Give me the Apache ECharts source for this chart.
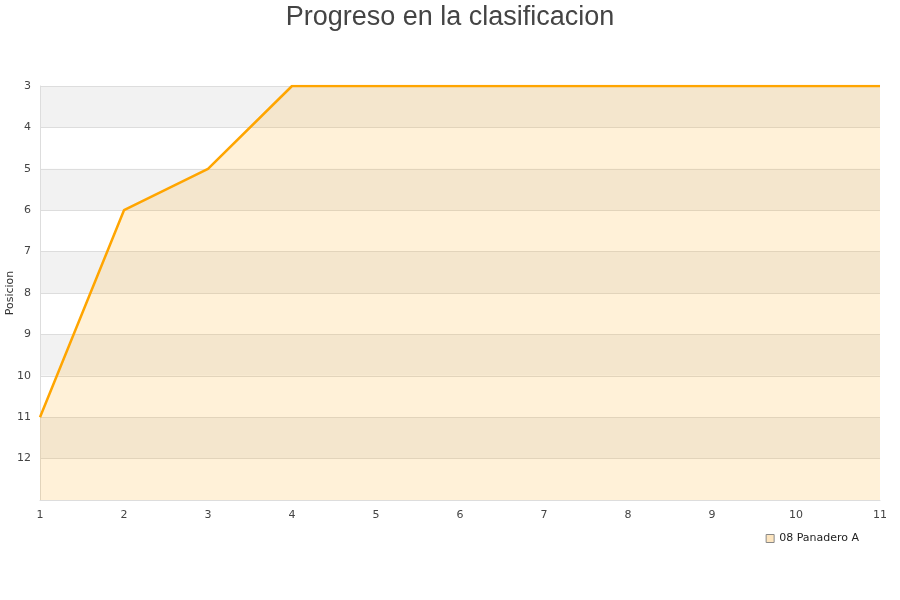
<!DOCTYPE html>
<html><head><meta charset="utf-8">
<script src="https://cdn.jsdelivr.net/npm/echarts@6/dist/echarts.min.js"></script>
<style>html,body{margin:0;padding:0;background:#fff}#c{width:900px;height:600px}</style>
</head><body><div id="c"></div>
<script>
const jornadas = [1,2,3,4,5,6,7,8,9,10,11];
const posiciones = [11,6,5,3,3,3,3,3,3,3,3];
const seriesName = '08 Panadero A';
const chart = echarts.init(document.getElementById('c'));
chart.setOption({
  animation:false,
  title:{text:'Progreso en la clasificacion',left:'center',top:-1,textStyle:{fontFamily:'Liberation Sans',fontSize:27,fontWeight:'normal',color:'#444'}},
  grid:{left:40,right:20,top:86,bottom:100,containLabel:false,outerBoundsMode:'none'},
  legend:{right:36,top:528,itemWidth:8,itemHeight:8,icon:'rect',textStyle:{fontFamily:'DejaVu Sans',fontSize:11,color:'#222'},
    data:[{name:seriesName,itemStyle:{color:'#fde5bf',borderColor:'#888',borderWidth:1}}]},
  xAxis:{type:'value',min:1,max:11,interval:1,
    axisLine:{lineStyle:{color:'#ddd'}},axisTick:{show:false},splitLine:{show:false},
    axisLabel:{color:'#444',fontFamily:'DejaVu Sans',fontSize:11,margin:10}},
  yAxis:{type:'value',inverse:true,min:3,max:13,interval:1,name:'Posicion',nameLocation:'middle',nameGap:24,nameMoveOverlap:false,
    nameTextStyle:{fontFamily:'DejaVu Sans',fontSize:11,color:'#333'},
    axisLine:{show:true,lineStyle:{color:'#ddd'}},axisTick:{show:false},
    axisLabel:{color:'#444',fontFamily:'DejaVu Sans',fontSize:11,margin:9,formatter:v=>v===13?'':v},
    splitLine:{lineStyle:{color:'#ddd'}},
    splitArea:{show:true,areaStyle:{color:['#f2f2f2','#ffffff']}}},
  series:[{name:seriesName,type:'line',data:jornadas.map((j,i)=>[j,posiciones[i]]),
    symbol:'none',lineStyle:{color:'#ffa500',width:2.5},itemStyle:{color:'#ffa500'},
    areaStyle:{origin:'end',color:'rgba(255,165,0,0.22)'}}]
});
</script></body></html>
